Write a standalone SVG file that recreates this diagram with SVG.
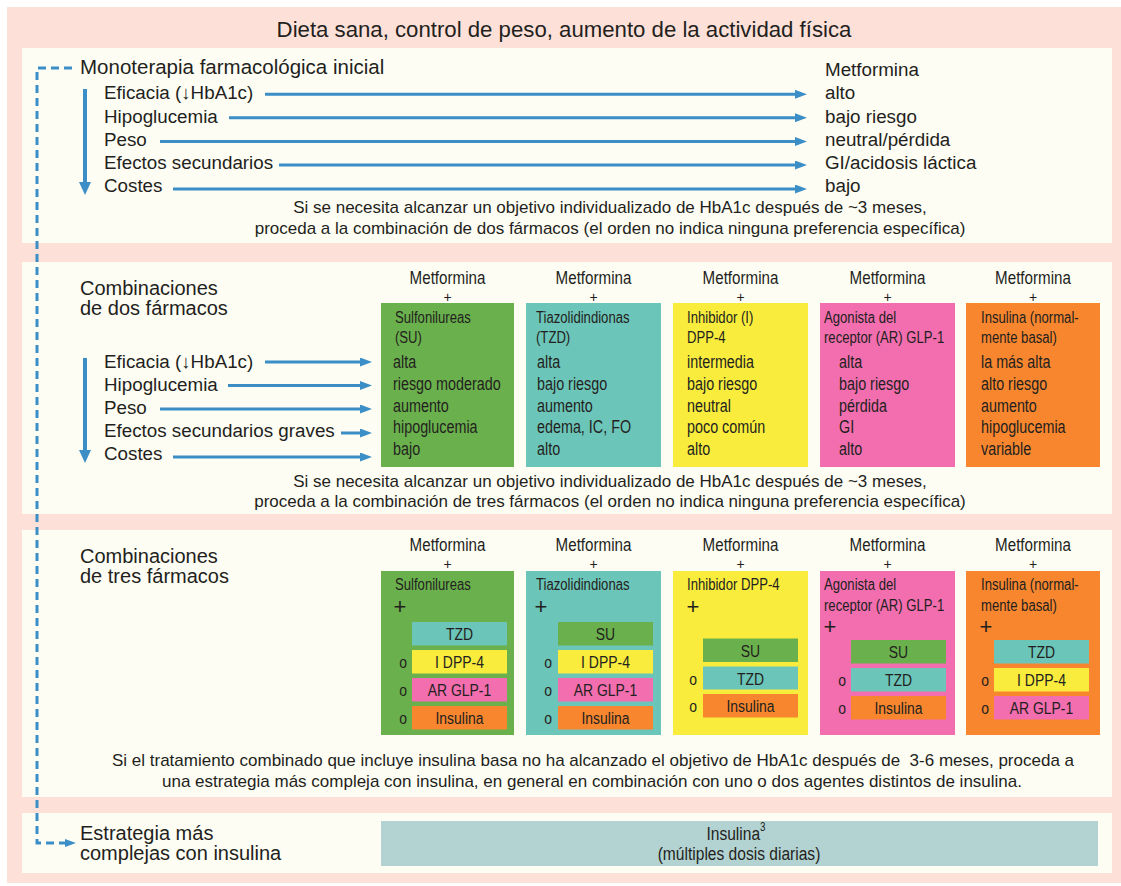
<svg xmlns="http://www.w3.org/2000/svg" width="1121" height="886" viewBox="0 0 1121 886">
<style>
  text { font-family: "Liberation Sans", Arial, sans-serif; fill: #231f20; }
  .title { font-size: 22.2px; }
  .hdr { font-size: 20.5px; }
  .hdr2 { font-size: 20px; }
  .item { font-size: 18.8px; }
  .note { font-size: 17px; }
  .met { font-size: 18.5px; }
  .mp { font-size: 14px; text-anchor: middle; }
  .bh { font-size: 16px; }
  .bi { font-size: 17.5px; }
  .ib { font-size: 17px; }
  .bx { font-size: 19px; }
  .plus { font-size: 22px; }
  .mid { text-anchor: middle; }
  .panel { fill: #fefdf4; }
  .arr { stroke: #3b8fc6; stroke-width: 3; fill: none; marker-end: url(#ah); }
  .down { stroke: #3b8fc6; stroke-width: 4; fill: none; marker-end: url(#ahd); }
  .dash { stroke: #3b8fc6; stroke-width: 3; fill: none; stroke-dasharray: 8 5; marker-end: url(#ahs); }
  .g { fill: #6ab04c; } .t { fill: #6cc5b9; } .y { fill: #f9ec3c; } .p { fill: #f26eae; } .o { fill: #f8862e; }
</style>
<defs>
  <marker id="ah" viewBox="0 0 12 9" markerWidth="12" markerHeight="9" refX="2" refY="4.5" orient="auto" markerUnits="userSpaceOnUse">
    <path d="M0,0 L12,4.5 L0,9 z" fill="#3b8fc6"/>
  </marker>
  <marker id="ahd" viewBox="0 0 13 12" markerWidth="13" markerHeight="12" refX="2" refY="6" orient="auto" markerUnits="userSpaceOnUse">
    <path d="M0,0 L13,6 L0,12 z" fill="#3b8fc6"/>
  </marker>
  <marker id="ahs" viewBox="0 0 11 8" markerWidth="11" markerHeight="8" refX="1" refY="4" orient="auto" markerUnits="userSpaceOnUse">
    <path d="M0,0 L11,4 L0,8 z" fill="#3b8fc6"/>
  </marker>
</defs>

<!-- background -->
<rect x="7" y="7" width="1114" height="876" fill="#fde1d9"/>
<text class="title mid" x="564" y="37">Dieta sana, control de peso, aumento de la actividad física</text>

<!-- Panel 1: monoterapia -->
<g id="panel-monoterapia">
  <rect class="panel" x="22" y="48" width="1090" height="195"/>
  <text class="hdr" x="80" y="74">Monoterapia farmacológica inicial</text>
  <text class="item" x="104" y="99">Eficacia (↓HbA1c)</text>
  <text class="item" x="104" y="123">Hipoglucemia</text>
  <text class="item" x="104" y="146">Peso</text>
  <text class="item" x="104" y="169">Efectos secundarios</text>
  <text class="item" x="104" y="192">Costes</text>
  <text class="item" x="825" y="76">Metformina</text>
  <text class="item" x="825" y="99">alto</text>
  <text class="item" x="825" y="123">bajo riesgo</text>
  <text class="item" x="825" y="146">neutral/pérdida</text>
  <text class="item" x="825" y="169">GI/acidosis láctica</text>
  <text class="item" x="825" y="192">bajo</text>
  <text class="note mid" x="610" y="213">Si se necesita alcanzar un objetivo individualizado de HbA1c después de ~3 meses,</text>
  <text class="note mid" x="610" y="234">proceda a la combinación de dos fármacos (el orden no indica ninguna preferencia específica)</text>
</g>

<!-- Panel 2: dos fármacos -->
<g id="panel-dos">
  <rect class="panel" x="22" y="262" width="1090" height="252"/>
  <text class="hdr2" x="80" y="295">Combinaciones</text>
  <text class="hdr2" x="80" y="315">de dos fármacos</text>
  <text class="item" x="104" y="368">Eficacia (↓HbA1c)</text>
  <text class="item" x="104" y="391">Hipoglucemia</text>
  <text class="item" x="104" y="414">Peso</text>
  <text class="item" x="104" y="437">Efectos secundarios graves</text>
  <text class="item" x="104" y="460">Costes</text>
  <text class="note mid" x="610" y="487">Si se necesita alcanzar un objetivo individualizado de HbA1c después de ~3 meses,</text>
  <text class="note mid" x="610" y="507">proceda a la combinación de tres fármacos (el orden no indica ninguna preferencia específica)</text>
</g>

<g id="col2-su">
  <text class="met mid" transform="translate(447.5,284) scale(0.82,1)">Metformina</text>
  <text class="mp" x="447.5" y="301.5">+</text>
  <rect class="g" x="381" y="303" width="133" height="164"/>
  <text class="bh" transform="translate(395,323) scale(0.82,1)">Sulfonilureas</text>
  <text class="bh" transform="translate(395,343) scale(0.82,1)">(SU)</text>
  <text class="bi" transform="translate(393,368) scale(0.82,1)">alta</text>
  <text class="bi" transform="translate(393,390) scale(0.82,1)">riesgo moderado</text>
  <text class="bi" transform="translate(393,412) scale(0.82,1)">aumento</text>
  <text class="bi" transform="translate(393,433) scale(0.82,1)">hipoglucemia</text>
  <text class="bi" transform="translate(393,455) scale(0.82,1)">bajo</text>
</g>
<g id="col2-tzd">
  <text class="met mid" transform="translate(593.5,284) scale(0.82,1)">Metformina</text>
  <text class="mp" x="593.5" y="301.5">+</text>
  <rect class="t" x="526" y="303" width="135" height="164"/>
  <text class="bh" transform="translate(536,323) scale(0.82,1)">Tiazolidindionas</text>
  <text class="bh" transform="translate(536,343) scale(0.82,1)">(TZD)</text>
  <text class="bi" transform="translate(537,368) scale(0.82,1)">alta</text>
  <text class="bi" transform="translate(537,390) scale(0.82,1)">bajo riesgo</text>
  <text class="bi" transform="translate(537,412) scale(0.82,1)">aumento</text>
  <text class="bi" transform="translate(537,433) scale(0.82,1)">edema, IC, FO</text>
  <text class="bi" transform="translate(537,455) scale(0.82,1)">alto</text>
</g>
<g id="col2-dpp4">
  <text class="met mid" transform="translate(740.5,284) scale(0.82,1)">Metformina</text>
  <text class="mp" x="740.5" y="301.5">+</text>
  <rect class="y" x="673" y="303" width="135" height="164"/>
  <text class="bh" transform="translate(687,323) scale(0.82,1)">Inhibidor (I)</text>
  <text class="bh" transform="translate(687,343) scale(0.82,1)">DPP-4</text>
  <text class="bi" transform="translate(687,368) scale(0.82,1)">intermedia</text>
  <text class="bi" transform="translate(687,390) scale(0.82,1)">bajo riesgo</text>
  <text class="bi" transform="translate(687,412) scale(0.82,1)">neutral</text>
  <text class="bi" transform="translate(687,433) scale(0.82,1)">poco común</text>
  <text class="bi" transform="translate(687,455) scale(0.82,1)">alto</text>
</g>
<g id="col2-glp1">
  <text class="met mid" transform="translate(887.5,284) scale(0.82,1)">Metformina</text>
  <text class="mp" x="887.5" y="301.5">+</text>
  <rect class="p" x="820" y="303" width="135" height="164"/>
  <text class="bh" transform="translate(824,323) scale(0.82,1)">Agonista del</text>
  <text class="bh" transform="translate(824,343) scale(0.82,1)">receptor (AR) GLP-1</text>
  <text class="bi" transform="translate(839,368) scale(0.82,1)">alta</text>
  <text class="bi" transform="translate(839,390) scale(0.82,1)">bajo riesgo</text>
  <text class="bi" transform="translate(839,412) scale(0.82,1)">pérdida</text>
  <text class="bi" transform="translate(839,433) scale(0.82,1)">GI</text>
  <text class="bi" transform="translate(839,455) scale(0.82,1)">alto</text>
</g>
<g id="col2-insulina">
  <text class="met mid" transform="translate(1033,284) scale(0.82,1)">Metformina</text>
  <text class="mp" x="1033" y="301.5">+</text>
  <rect class="o" x="966" y="303" width="134" height="164"/>
  <text class="bh" transform="translate(981,323) scale(0.82,1)">Insulina (normal-</text>
  <text class="bh" transform="translate(981,343) scale(0.82,1)">mente basal)</text>
  <text class="bi" transform="translate(981,368) scale(0.82,1)">la más alta</text>
  <text class="bi" transform="translate(981,390) scale(0.82,1)">alto riesgo</text>
  <text class="bi" transform="translate(981,412) scale(0.82,1)">aumento</text>
  <text class="bi" transform="translate(981,433) scale(0.82,1)">hipoglucemia</text>
  <text class="bi" transform="translate(981,455) scale(0.82,1)">variable</text>
</g>

<!-- Panel 3: tres fármacos -->
<g id="panel-tres">
  <rect class="panel" x="22" y="530" width="1090" height="267"/>
  <text class="hdr2" x="80" y="563">Combinaciones</text>
  <text class="hdr2" x="80" y="583">de tres fármacos</text>
  <text class="note mid" x="593" y="766" xml:space="preserve">Si el tratamiento combinado que incluye insulina basa no ha alcanzado el objetivo de HbA1c después de  3-6 meses, proceda a</text>
  <text class="note mid" x="592" y="787">una estrategia más compleja con insulina, en general en combinación con uno o dos agentes distintos de insulina.</text>
</g>

<g id="col3-su">
  <text class="met mid" transform="translate(447.5,551) scale(0.82,1)">Metformina</text>
  <text class="mp" x="447.5" y="569">+</text>
  <rect class="g" x="381" y="571" width="133" height="164"/>
  <text class="bh" transform="translate(395,590) scale(0.82,1)">Sulfonilureas</text>
  <text class="plus mid" x="400" y="614">+</text>
  <rect class="t" x="412" y="622" width="95" height="23.5"/>
  <text class="ib mid" transform="translate(459.5,640) scale(0.82,1)">TZD</text>
  <text class="ib mid" transform="translate(403,668) scale(0.82,1)">o</text>
  <rect class="y" x="412" y="650" width="95" height="23.5"/>
  <text class="ib mid" transform="translate(459.5,668) scale(0.82,1)">I DPP-4</text>
  <text class="ib mid" transform="translate(403,696) scale(0.82,1)">o</text>
  <rect class="p" x="412" y="678" width="95" height="23.5"/>
  <text class="ib mid" transform="translate(459.5,696) scale(0.82,1)">AR GLP-1</text>
  <text class="ib mid" transform="translate(403,724) scale(0.82,1)">o</text>
  <rect class="o" x="412" y="706" width="95" height="23.5"/>
  <text class="ib mid" transform="translate(459.5,724) scale(0.82,1)">Insulina</text>
</g>
<g id="col3-tzd">
  <text class="met mid" transform="translate(593.5,551) scale(0.82,1)">Metformina</text>
  <text class="mp" x="593.5" y="569">+</text>
  <rect class="t" x="526" y="571" width="135" height="164"/>
  <text class="bh" transform="translate(536,590) scale(0.82,1)">Tiazolidindionas</text>
  <text class="plus mid" x="541" y="614">+</text>
  <rect class="g" x="558" y="622" width="95" height="23.5"/>
  <text class="ib mid" transform="translate(605.5,640) scale(0.82,1)">SU</text>
  <text class="ib mid" transform="translate(548,668) scale(0.82,1)">o</text>
  <rect class="y" x="558" y="650" width="95" height="23.5"/>
  <text class="ib mid" transform="translate(605.5,668) scale(0.82,1)">I DPP-4</text>
  <text class="ib mid" transform="translate(548,696) scale(0.82,1)">o</text>
  <rect class="p" x="558" y="678" width="95" height="23.5"/>
  <text class="ib mid" transform="translate(605.5,696) scale(0.82,1)">AR GLP-1</text>
  <text class="ib mid" transform="translate(548,724) scale(0.82,1)">o</text>
  <rect class="o" x="558" y="706" width="95" height="23.5"/>
  <text class="ib mid" transform="translate(605.5,724) scale(0.82,1)">Insulina</text>
</g>
<g id="col3-dpp4">
  <text class="met mid" transform="translate(740.5,551) scale(0.82,1)">Metformina</text>
  <text class="mp" x="740.5" y="569">+</text>
  <rect class="y" x="673" y="571" width="135" height="164"/>
  <text class="bh" transform="translate(687,590) scale(0.82,1)">Inhibidor DPP-4</text>
  <text class="plus mid" x="693" y="614">+</text>
  <rect class="g" x="703" y="638.5" width="95" height="23.5"/>
  <text class="ib mid" transform="translate(750.5,656.5) scale(0.82,1)">SU</text>
  <text class="ib mid" transform="translate(693,684.5) scale(0.82,1)">o</text>
  <rect class="t" x="703" y="666.5" width="95" height="23"/>
  <text class="ib mid" transform="translate(750.5,684.5) scale(0.82,1)">TZD</text>
  <text class="ib mid" transform="translate(693,712) scale(0.82,1)">o</text>
  <rect class="o" x="703" y="694" width="95" height="23.5"/>
  <text class="ib mid" transform="translate(750.5,712) scale(0.82,1)">Insulina</text>
</g>
<g id="col3-glp1">
  <text class="met mid" transform="translate(887.5,551) scale(0.82,1)">Metformina</text>
  <text class="mp" x="887.5" y="569">+</text>
  <rect class="p" x="820" y="571" width="135" height="164"/>
  <text class="bh" transform="translate(824,590) scale(0.82,1)">Agonista del</text>
  <text class="bh" transform="translate(824,611) scale(0.82,1)">receptor (AR) GLP-1</text>
  <text class="plus mid" x="830" y="634">+</text>
  <rect class="g" x="851" y="640" width="95" height="23.5"/>
  <text class="ib mid" transform="translate(898.5,658) scale(0.82,1)">SU</text>
  <text class="ib mid" transform="translate(842,686) scale(0.82,1)">o</text>
  <rect class="t" x="851" y="668" width="95" height="23.5"/>
  <text class="ib mid" transform="translate(898.5,686) scale(0.82,1)">TZD</text>
  <text class="ib mid" transform="translate(842,714) scale(0.82,1)">o</text>
  <rect class="o" x="851" y="696" width="95" height="23.5"/>
  <text class="ib mid" transform="translate(898.5,714) scale(0.82,1)">Insulina</text>
</g>
<g id="col3-insulina">
  <text class="met mid" transform="translate(1033,551) scale(0.82,1)">Metformina</text>
  <text class="mp" x="1033" y="569">+</text>
  <rect class="o" x="966" y="571" width="134" height="164"/>
  <text class="bh" transform="translate(981,590) scale(0.82,1)">Insulina (normal-</text>
  <text class="bh" transform="translate(981,611) scale(0.82,1)">mente basal)</text>
  <text class="plus mid" x="986" y="634">+</text>
  <rect class="t" x="994" y="640" width="95" height="23.5"/>
  <text class="ib mid" transform="translate(1041.5,658) scale(0.82,1)">TZD</text>
  <text class="ib mid" transform="translate(985,686) scale(0.82,1)">o</text>
  <rect class="y" x="994" y="668" width="95" height="23.5"/>
  <text class="ib mid" transform="translate(1041.5,686) scale(0.82,1)">I DPP-4</text>
  <text class="ib mid" transform="translate(985,714) scale(0.82,1)">o</text>
  <rect class="p" x="994" y="696" width="95" height="23.5"/>
  <text class="ib mid" transform="translate(1041.5,714) scale(0.82,1)">AR GLP-1</text>
</g>

<!-- Panel 4 -->
<g id="panel-insulina">
  <rect class="panel" x="22" y="813" width="1090" height="60"/>
  <text class="hdr2" x="80" y="840">Estrategia más</text>
  <text class="hdr2" x="80" y="860">complejas con insulina</text>
</g>
<g id="insulina-multiple">
  <rect x="381" y="821" width="717" height="45" fill="#b3d3d3"/>
  <text class="bx mid" transform="translate(736,840) scale(0.82,1)">Insulina<tspan font-size="12" dy="-9">3</tspan></text>
  <text class="bx mid" transform="translate(739,860) scale(0.82,1)">(múltiples dosis diarias)</text>
</g>

<!-- connectors -->
<g id="connectors">
  <path class="down" d="M85,89 V184"/>
  <path class="arr" d="M265,94.3 H797"/>
  <path class="arr" d="M229,117.7 H797"/>
  <path class="arr" d="M160,141.5 H797"/>
  <path class="arr" d="M279,165 H797"/>
  <path class="arr" d="M173,189 H797"/>

  <path class="down" d="M85,358 V452"/>
  <path class="arr" d="M265,362 H362"/>
  <path class="arr" d="M228,385.5 H362"/>
  <path class="arr" d="M160,409 H362"/>
  <path class="arr" d="M341,433 H362"/>
  <path class="arr" d="M173,457 H362"/>

  <path class="dash" d="M72,68 H37 V843 H66"/>
</g>
</svg>
